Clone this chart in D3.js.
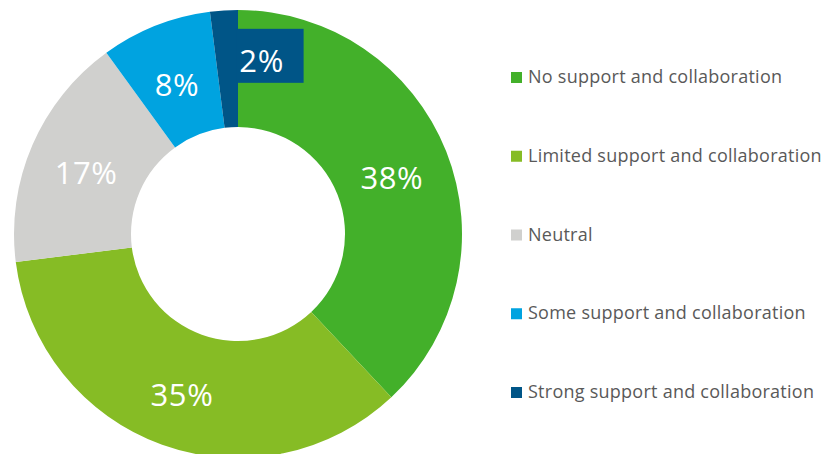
<!DOCTYPE html>
<html>
<head>
<meta charset="utf-8">
<script src="https://cdn.jsdelivr.net/npm/d3@7"></script>
<style>
  html, body { margin: 0; padding: 0; background: #fff; }
  svg { display: block; }
</style>
</head>
<body>
<svg id="chart" width="831" height="454"></svg>
<script>
// Survey responses: level of support and collaboration
const categories = [
  "No support and collaboration",
  "Limited support and collaboration",
  "Neutral",
  "Some support and collaboration",
  "Strong support and collaboration"
];
const values = [38, 35, 17, 8, 2];
const colors = ["#43B02A", "#86BC25", "#D0D0CE", "#00A3E0", "#005587"];

const svg = d3.select("#chart");
const cx = 238, cy = 234;
const outerR = 224, innerR = 107;

const pie = d3.pie().sort(null).value(d => d.value);
const arc = d3.arc().innerRadius(innerR).outerRadius(outerR);
const labelArc = d3.arc().innerRadius((innerR + outerR) / 2).outerRadius((innerR + outerR) / 2);

const data = categories.map((c, i) => ({ name: c, value: values[i], color: colors[i] }));
const arcs = pie(data);

const g = svg.append("g").attr("transform", `translate(${cx},${cy})`);

g.selectAll("path.slice")
  .data(arcs)
  .enter().append("path")
  .attr("class", "slice")
  .attr("d", arc)
  .attr("fill", d => d.data.color);

// The smallest slice gets its label nudged outward on a filled tag
const labelShift = [[0, 0], [0, 0], [0, 0], [0, 0], [34, -13]];

const labels = g.selectAll("g.lbl")
  .data(arcs)
  .enter().append("g")
  .attr("class", "lbl")
  .attr("transform", (d, i) => {
    const [x, y] = labelArc.centroid(d);
    return `translate(${x + labelShift[i][0]},${y + labelShift[i][1]})`;
  });

labels.filter((d, i) => i === arcs.length - 1)
  .append("rect")
  .attr("x", -25)
  .attr("y", -27)
  .attr("width", 67)
  .attr("height", 54)
  .attr("fill", d => d.data.color);

labels.append("text")
  .attr("text-anchor", "middle")
  .attr("y", 16)
  .attr("fill", "#fff")
  .style("font-family", "'Open Sans', sans-serif")
  .style("font-size", "31px")
  .style("letter-spacing", "0.6px")
  .text(d => d.data.value + "%");

// Legend
const legend = svg.append("g").attr("transform", "translate(511,0)");
const rowY = d3.scalePoint().domain(categories).range([83, 398]);

const rows = legend.selectAll("g.row")
  .data(data)
  .enter().append("g")
  .attr("class", "row")
  .attr("transform", d => `translate(0,${rowY(d.name)})`);

rows.append("rect")
  .attr("x", 0)
  .attr("y", -11)
  .attr("width", 11)
  .attr("height", 11)
  .attr("fill", d => d.color);

rows.append("text")
  .attr("x", 17)
  .attr("y", 0)
  .attr("fill", "#595959")
  .style("font-family", "'Open Sans', sans-serif")
  .style("font-size", "18px")
  .style("letter-spacing", "0.25px")
  .text(d => d.name);
</script>
</body>
</html>
